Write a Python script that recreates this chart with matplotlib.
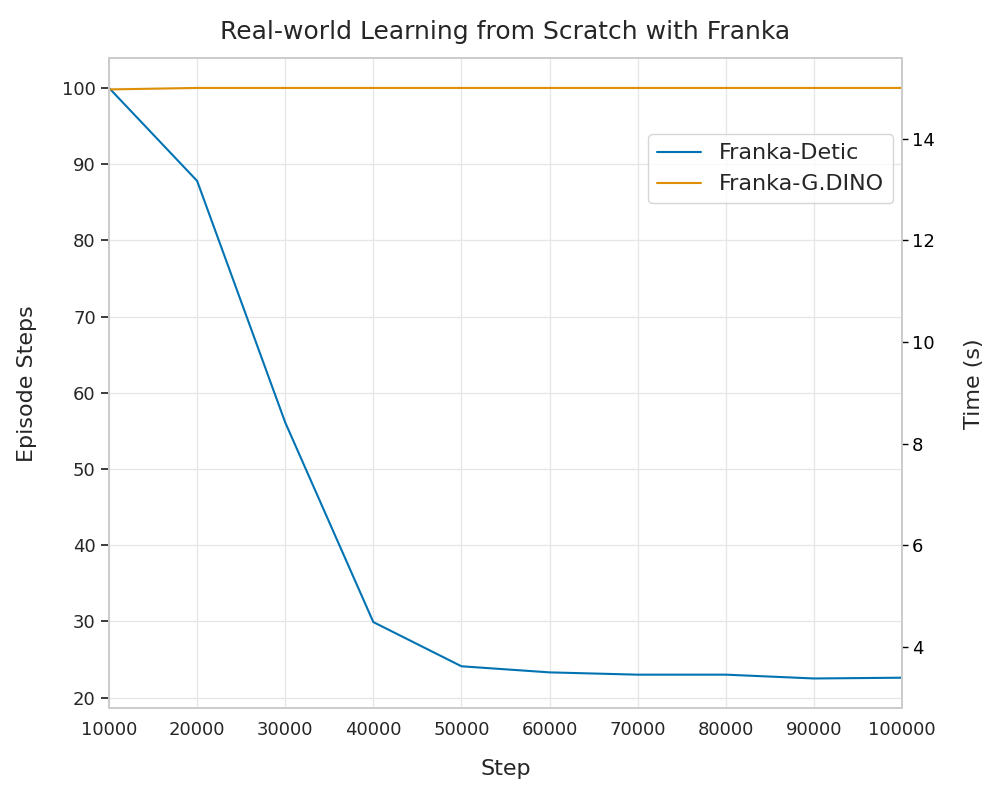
import numpy as np
import matplotlib.pyplot as plt
import seaborn as sns

sns.set_theme(style="whitegrid", palette="colorblind")
plt.rcParams['font.family'] = ['DejaVu Sans']

steps = [10000, 20000, 30000, 40000, 50000, 60000, 70000, 80000, 90000, 100000]
detic = [100, 87.8, 56.1, 29.9, 24.1, 23.3, 23.0, 23.0, 22.5, 22.6]
gdino = [99.8, 100, 100, 100, 100, 100, 100, 100, 100, 100]
sec_per_step = 0.15

fig, ax = plt.subplots(figsize=(10, 8), dpi=100)
ax.plot(steps, detic, label='Franka-Detic', linewidth=1.5)
ax.plot(steps, gdino, label='Franka-G.DINO', linewidth=1.5)
ax.set_xlim(steps[0], steps[-1])
ax.grid(True, color='#e6e6e6', linewidth=0.9)

ax.set_xlabel('Step', fontsize=16, labelpad=14)
ax.set_ylabel('Episode Steps', fontsize=16, labelpad=18)
ax.tick_params(labelsize=13)
ax.set_title('Real-world Learning from Scratch with Franka', fontsize=18, pad=14)

ax2 = ax.twinx()
lo, hi = ax.get_ylim()
ax2.set_ylim(lo * sec_per_step, hi * sec_per_step)
ax2.grid(False)
ax2.set_ylabel('Time (s)', fontsize=16, labelpad=21)
ax2.tick_params(labelsize=13, right=True, length=4, width=1, color='black',
                labelcolor='black', pad=3)

ax.legend(loc='upper right', bbox_to_anchor=(1.003, 0.9), fontsize=16,
          handlelength=2.0)

fig.subplots_adjust(left=0.109, right=0.902, top=0.927, bottom=0.115)
fig.savefig('out.png')
